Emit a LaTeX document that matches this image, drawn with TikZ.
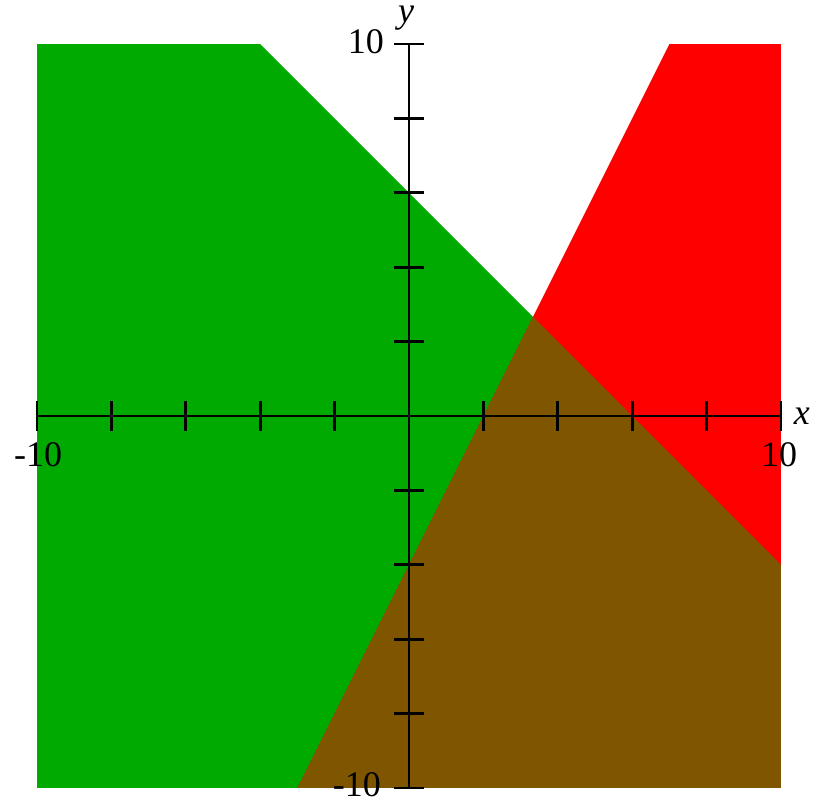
\documentclass[tikz,border=0pt]{standalone}
\usepackage{fontspec}
\setmainfont{Liberation Serif}
\usetikzlibrary{calc}
\definecolor{regiongreen}{HTML}{00AA00}
\definecolor{regionred}{HTML}{FF0000}
\definecolor{regionboth}{HTML}{7F5500}

\begin{document}
\begin{tikzpicture}[
		x=18.6pt,
		y=18.6pt,
		font=\fontsize{18}{20}\selectfont,
		axis/.style={
			draw=black,
			line width=1.3pt
		},
		tick/.style={
			draw=black,
			line width=1.4pt
		},
		ticklabel/.style={
			inner sep=0pt
		},
		axislabel/.style={
			inner sep=0pt,
			font=\fontsize{18}{20}\selectfont\itshape
		}
	]
		\useasboundingbox (-10.995,-10.323) rectangle (10.968,11.183);

		% half-planes x+y<=6 and y<=2x-4
		\fill[regiongreen] (-10,10) -- (-4,10) -- (10,-4) -- (10,-10) -- (-10,-10) -- cycle;
		\fill[regionred] (7,10) -- (10,10) -- (10,-10) -- (-3,-10) -- cycle;
		\fill[regionboth] (10/3,8/3) -- (10,-4) -- (10,-10) -- (-3,-10) -- cycle;

		\coordinate (xmin) at (-10,0);
		\coordinate (xmax) at (10,0);
		\coordinate (ymin) at (0,-10);
		\coordinate (ymax) at (0,10);

		\draw[axis] (xmin) -- (xmax);
		\draw[axis] (ymin) -- (ymax);

		\foreach \t in {-10,-8,...,10} {
			\draw[tick] (\t,-0.4) -- (\t,0.4);
			\draw[tick] (-0.4,\t) -- (0.4,\t);
		}

		\node[ticklabel] (xlo) at (-9.97,-1.05) {-10};
		\node[ticklabel] (xhi) at (9.95,-1.05) {10};
		\node[ticklabel] (yhi) at (-1.16,10.05) {10};
		\node[ticklabel] (ylo) at (-1.40,-9.92) {-10};

		\node[axislabel] (xname) at (10.56,0) {x};
		\node[axislabel] (yname) at (-0.08,10.69) {y};
	\end{tikzpicture}
\end{document}
